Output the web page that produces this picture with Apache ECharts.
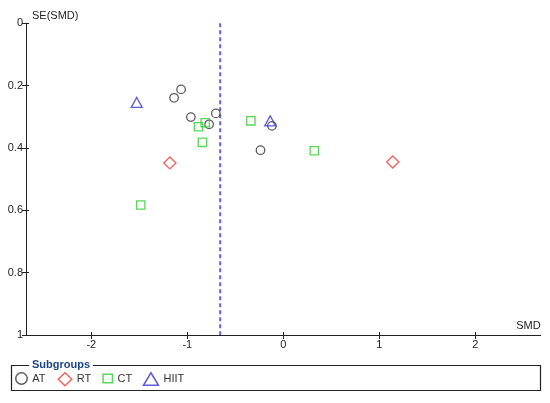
<!DOCTYPE html>
<html><head><meta charset="utf-8">
<script src="https://cdn.jsdelivr.net/npm/echarts@6/dist/echarts.min.js"></script>
<style>html,body{margin:0;padding:0;background:#fff}#c{width:550px;height:403px}</style>
</head><body><div id="c"></div>
<script>
// Subgroup data: SMD (x) and SE(SMD) (y)
const atSMD   = [-1.065, -1.138, -0.963, -0.703, -0.773, -0.119, -0.238];
const atSE    = [0.212, 0.239, 0.301, 0.289, 0.324, 0.329, 0.407];
const rtSMD   = [-1.182, 1.139];
const rtSE    = [0.448, 0.445];
const ctSMD   = [-0.814, -0.884, -0.843, -0.338, 0.322, -1.485];
const ctSE    = [0.319, 0.332, 0.382, 0.313, 0.409, 0.583];
const hiitSMD = [-1.527, -0.137];
const hiitSE  = [0.254, 0.313];
const pooledSMD = -0.658;
const seRange = [0, 1];
const xTickValues = [-2, -1, 0, 1, 2];
const subgroupNames = ['AT', 'RT', 'CT', 'HIIT'];

const pair = (xs, ys) => xs.map((x, i) => [x, ys[i]]);
const FONT = 'Liberation Sans, Arial, sans-serif';
const colors = {AT: '#333333', RT: '#f03a3a', CT: '#2ecc2e', HIIT: '#3535cc'};

function sc(name, xs, ys, symbol, size) {
  return {
    name: name, type: 'scatter', data: pair(xs, ys), symbol: symbol, symbolSize: size,
    itemStyle: {color: 'rgba(0,0,0,0)', borderColor: colors[name], borderWidth: 1.3},
    emphasis: {disabled: true}, z: 3
  };
}

function leg(name, icon, left, top, w, h) {
  return {
    data: [{name: name, icon: icon, itemStyle: {color: 'rgba(0,0,0,0)', borderColor: colors[name], borderWidth: 1.5}}],
    left: left, top: top, padding: 0, itemWidth: w, itemHeight: h, selectedMode: false,
    textStyle: {fontFamily: FONT, fontSize: 11, color: '#333'}
  };
}

const chart = echarts.init(document.getElementById('c'), null, {renderer: 'canvas'});
chart.setOption({
  animation: false,
  grid: {left: 26, right: 9.3, top: 23.3, bottom: 68},
  xAxis: [{
    type: 'value', min: -2.68, max: 2.68, position: 'bottom',
    name: 'SMD', nameLocation: 'end', nameGap: 0,
    nameTextStyle: {fontFamily: FONT, fontSize: 11, color: '#222', align: 'right', verticalAlign: 'bottom', padding: [0, 0, 4, 0]},
    axisLine: {onZero: false, lineStyle: {color: '#222', width: 1}},
    axisTick: {show: true, length: 4, lineStyle: {color: '#222'}, customValues: xTickValues},
    axisLabel: {fontFamily: FONT, fontSize: 11, color: '#222', margin: 4, customValues: xTickValues},
    splitLine: {show: false}
  }, {
    type: 'value', min: -2.68, max: 2.68, position: 'bottom',
    axisLine: {show: false, onZero: false},
    axisTick: {show: true, inside: true, length: 3, lineStyle: {color: '#222'}, customValues: xTickValues},
    axisLabel: {show: false}, splitLine: {show: false}
  }],
  yAxis: [{
    type: 'value', inverse: true, min: seRange[0], max: seRange[1], interval: 0.2, position: 'left',
    name: 'SE(SMD)', nameLocation: 'start', nameGap: 7,
    nameTextStyle: {fontFamily: FONT, fontSize: 11, color: '#222', align: 'left', verticalAlign: 'middle', padding: [0, 0, 0, 6]},
    axisLine: {show: true, onZero: false, lineStyle: {color: '#222', width: 1}},
    axisTick: {show: true, length: 4, lineStyle: {color: '#222'}},
    axisLabel: {fontFamily: FONT, fontSize: 11, color: '#222', margin: 3},
    splitLine: {show: false}
  }, {
    type: 'value', inverse: true, min: seRange[0], max: seRange[1], interval: 0.2, position: 'left',
    axisLine: {show: false, onZero: false},
    axisTick: {show: true, inside: true, length: 3, lineStyle: {color: '#222'}},
    axisLabel: {show: false}, splitLine: {show: false}
  }],
  legend: [
    leg('AT', 'circle', 15, 372, 11.5, 11.5),
    leg('RT', 'diamond', 57.5, 372, 13.5, 13),
    leg('CT', 'rect', 102.3, 373, 9.4, 8.6),
    leg('HIIT', 'triangle', 142.7, 372, 15, 12.6)
  ],
  graphic: [
    {type: 'rect', shape: {x: 11.5, y: 365.5, width: 529, height: 25},
     style: {fill: 'none', stroke: '#222', lineWidth: 1.2}, z: 1},
    {type: 'text', left: 29, top: 359.5,
     style: {text: 'Subgroups', fontFamily: FONT, fontSize: 11, fontWeight: 'bold', fill: '#1c4587',
             backgroundColor: '#fff', padding: [0, 3, 0, 3]}, z: 2}
  ],
  series: [
    {
      name: 'pooled', type: 'line', data: [[pooledSMD, seRange[0]], [pooledSMD, seRange[1]]],
      symbol: 'none', silent: true, z: 1,
      lineStyle: {color: '#6464e6', width: 2, type: [4, 3]}
    },
    sc('AT', atSMD, atSE, 'circle', 8.5),
    sc('RT', rtSMD, rtSE, 'diamond', [12.3, 12]),
    sc('CT', ctSMD, ctSE, 'rect', 8.3),
    sc('HIIT', hiitSMD, hiitSE, 'triangle', [11, 10])
  ]
});
</script></body></html>
